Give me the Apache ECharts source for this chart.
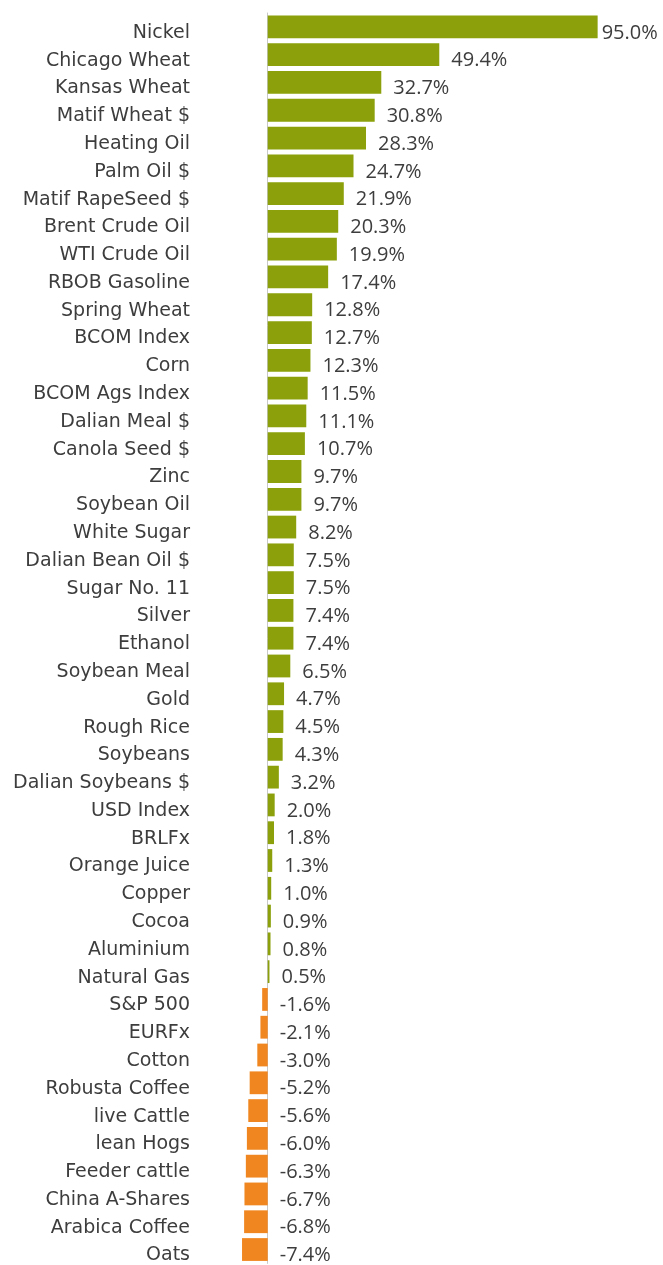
<!DOCTYPE html>
<html>
<head>
<meta charset="utf-8">
<script src="https://cdn.jsdelivr.net/npm/echarts@6/dist/echarts.min.js"></script>
<style>
  html, body { margin: 0; padding: 0; background: #fff; }
  #chart { width: 663px; height: 1265px; }
</style>
</head>
<body>
<div id="chart"></div>
<script>
// categories, top to bottom
var categories = ['Nickel', 'Chicago Wheat', 'Kansas Wheat', 'Matif Wheat $', 'Heating Oil', 'Palm Oil $',
  'Matif RapeSeed $', 'Brent Crude Oil', 'WTI Crude Oil', 'RBOB Gasoline', 'Spring Wheat', 'BCOM Index',
  'Corn', 'BCOM Ags Index', 'Dalian Meal $', 'Canola Seed $', 'Zinc', 'Soybean Oil', 'White Sugar',
  'Dalian Bean Oil $', 'Sugar No. 11', 'Silver', 'Ethanol', 'Soybean Meal', 'Gold', 'Rough Rice',
  'Soybeans', 'Dalian Soybeans $', 'USD Index', 'BRLFx', 'Orange Juice', 'Copper', 'Cocoa', 'Aluminium',
  'Natural Gas', 'S&P 500', 'EURFx', 'Cotton', 'Robusta Coffee', 'live Cattle', 'lean Hogs',
  'Feeder cattle', 'China A-Shares', 'Arabica Coffee', 'Oats'];

// % change
var changes = [95.0, 49.4, 32.7, 30.8, 28.3, 24.7, 21.9, 20.3, 19.9, 17.4, 12.8, 12.7, 12.3, 11.5, 11.1,
  10.7, 9.7, 9.7, 8.2, 7.5, 7.5, 7.4, 7.4, 6.5, 4.7, 4.5, 4.3, 3.2, 2.0, 1.8, 1.3, 1.0, 0.9, 0.8, 0.5,
  -1.6, -2.1, -3.0, -5.2, -5.6, -6.0, -6.3, -6.7, -6.8, -7.4];

var GREEN = '#8ba00a';
var ORANGE = '#f0861f';
var TEXT = '#3d3d3d';

var seriesData = changes.map(function (v, i) {
  var item = {
    value: v,
    itemStyle: { color: v >= 0 ? GREEN : ORANGE }
  };
  // top bar label sits tight against the bar so it fits the width
  if (i === 0) item.label = { distance: 4 };
  return item;
});

var myChart = echarts.init(document.getElementById('chart'));
myChart.setOption({
  animation: false,
  grid: { left: 233, right: 48, top: 13, bottom: 0 },
  xAxis: {
    type: 'value',
    min: -10,
    max: 100,
    show: false
  },
  yAxis: {
    type: 'category',
    inverse: true,
    data: categories,
    axisTick: { show: false },
    axisLine: { onZero: true, lineStyle: { color: '#c8c8c8', width: 1 } },
    axisLabel: {
      margin: 43,
      color: TEXT,
      fontSize: 19,
      fontFamily: 'DejaVu Sans',
      // text sits a little below the bar centre, as in the original
      verticalAlign: 'top',
      lineHeight: 12
    }
  },
  series: [{
    type: 'bar',
    data: seriesData,
    barCategoryGap: '18%',
    label: {
      show: true,
      position: 'right',
      distance: 12,
      offset: [0, 6],
      color: TEXT,
      fontSize: 20,
      fontFamily: 'Open Sans',
      formatter: function (p) { return p.value.toFixed(1) + '%'; }
    }
  }]
});
</script>
</body>
</html>
